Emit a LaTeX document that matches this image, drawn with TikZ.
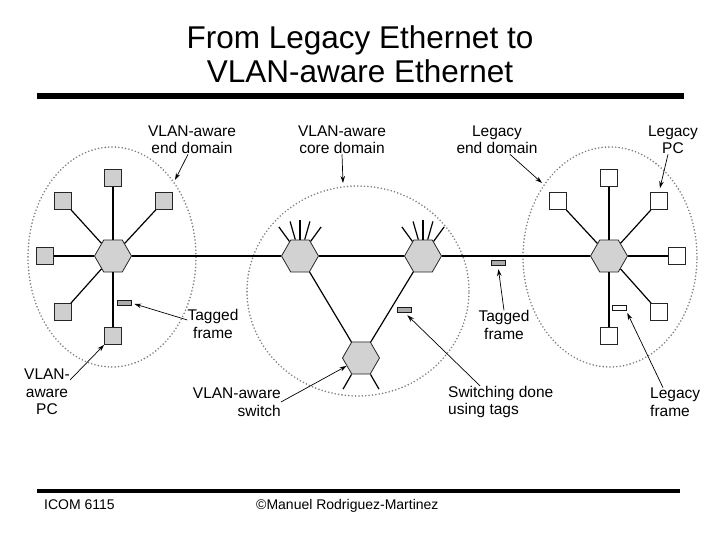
\documentclass[tikz,border=0pt]{standalone}
\usepackage{fontspec}
\setmainfont{Liberation Sans}
\usepackage{tikz}
\usetikzlibrary{shapes.geometric,arrows.meta}

\tikzset{
  hub/.style={regular polygon, regular polygon sides=6, minimum size=37pt, inner sep=0pt,
    draw=gray!30!black, fill=gray!35, line width=0.8pt},
  pc/.style={draw=gray!30!black, line width=0.8pt, minimum size=17pt, inner sep=0pt},
  vpc/.style={pc, fill=gray!38},
  lpc/.style={pc, fill=white},
  frm/.style={draw=gray!20!black, line width=0.8pt, minimum width=14pt, minimum height=5.5pt, inner sep=0pt},
  dombound/.style={gray, line width=1.8pt, dash pattern=on 0pt off 3.4pt, line cap=round},
  lbl/.style={font=\fontsize{15.5}{17.5}\selectfont, inner sep=0pt},
  callout/.style={-{Stealth[length=7pt,width=4.5pt]}, line width=0.7pt},
  link/.style={line width=1.2pt}
}

\begin{document}
\begin{tikzpicture}[x=1pt,y=1pt]
  \useasboundingbox (0,0) rectangle (720,540);

  \node[font=\fontsize{31.5}{34}\selectfont, align=center, inner sep=0pt] (ttl) at (360,486)
    {From Legacy Ethernet to\\VLAN-aware Ethernet};
  \fill (37,441) rectangle (684,447);
  \fill (37,47) rectangle (680,51);
  \node[font=\fontsize{14}{16}\selectfont, anchor=base west, inner sep=0pt] (foot1) at (44,30) {ICOM 6115};
  \node[font=\fontsize{14}{16}\selectfont, anchor=base west, inner sep=0pt] (foot2) at (256,30) {©Manuel Rodriguez-Martinez};

  % domains
  \draw[dombound] (112,283) ellipse [x radius=84pt, y radius=110pt];
  \draw[dombound] (358,249) ellipse [x radius=111pt, y radius=105pt];
  \draw[dombound] (610,283) ellipse [x radius=87pt, y radius=110pt];

  % switches
  \node[hub] (hubL) at (113,284) {};
  \node[hub] (coreA) at (300,284) {};
  \node[hub] (coreB) at (423,284) {};
  \node[hub] (coreC) at (361,182) {};
  \node[hub] (hubR) at (609,284) {};

  \draw[link] (hubL) -- (coreA);
  \draw[link] (coreA) -- (coreB);
  \draw[link] (coreB) -- (hubR);
  \draw[link] (coreA) -- (coreC);
  \draw[link] (coreB) -- (coreC);

  \foreach \a in {54,74,90,106,126} {
    \draw[link] (coreA.\a) -- ([shift={(\a:36)}]coreA.center);
    \draw[link] (coreB.\a) -- ([shift={(\a:36)}]coreB.center);
  }
  \foreach \a in {-120,-60}
    \draw[link] (coreC.\a) -- ([shift={(\a:36)}]coreC.center);

  % end stations
  \foreach \n/\x/\y in {1/113/362, 2/63/339, 3/164/339, 4/45/284, 5/63/228, 6/113/204} {
    \node[vpc] (pcL\n) at (\x,\y) {};
    \draw[link] (hubL) -- (pcL\n);
  }
  \foreach \n/\x/\y in {1/609/362, 2/558/339, 3/659/339, 4/677/284, 5/659/228, 6/609/204} {
    \node[lpc] (pcR\n) at (\x,\y) {};
    \draw[link] (hubR) -- (pcR\n);
  }

  % frames
  \node[frm, fill=gray!65] (frmL) at (124,237) {};
  \node[frm, fill=gray!65] (frmC) at (404,230) {};
  \node[frm, fill=gray!65] (frmM) at (498,277) {};
  \node[frm, fill=white] (frmR) at (619,232) {};

  % labels
  \node[lbl, align=center] (lblEndL) at (192,400) {VLAN-aware\\end domain};
  \node[lbl, align=center] (lblCore) at (342,400) {VLAN-aware\\core domain};
  \node[lbl, align=center] (lblEndR) at (497,400) {Legacy\\end domain};
  \node[lbl, align=center] (lblPCR) at (673,400) {Legacy\\PC};
  \node[lbl, align=center] (lblTagL) at (213,216) {Tagged\\frame};
  \node[lbl, align=center] (lblPCL) at (47,148) {VLAN-\\aware\\PC};
  \node[lbl, align=right, anchor=east] (lblSw) at (281,138) {VLAN-aware\\switch};
  \node[lbl, align=left, anchor=west] (lblSwt) at (448,138) {Switching done\\using tags};
  \node[lbl, align=center] (lblTagR) at (504,215) {Tagged\\frame};
  \node[lbl, align=left, anchor=west] (lblLegF) at (650,138) {Legacy\\frame};

  \coordinate (tipEndL) at (175,360);
  \coordinate (tipCore) at (343,357);
  \coordinate (tipEndR) at (542,357);

  \draw[callout] ([xshift=-4pt]lblEndL.south) -- (tipEndL);
  \draw[callout] (lblCore.south) -- (tipCore);
  \draw[callout] ([xshift=13pt]lblEndR.south) -- (tipEndR);
  \draw[callout, shorten >=4pt] ([xshift=-5pt]lblPCR.south) -- (pcR3.north);
  \draw[callout, shorten >=3pt] ([yshift=4pt]lblTagL.west) -- (frmL.east);
  \draw[callout] ([yshift=12pt]lblPCL.east) -- (pcL6.south west);
  \draw[callout] (lblSw.east) -- (coreC.209);
  \draw[callout, shorten >=3pt] ([xshift=32pt]lblSwt.north west) -- (frmC.-70);
  \draw[callout, shorten >=3pt] (lblTagR.north) -- (frmM.south);
  \draw[callout, shorten >=2pt] ([xshift=13pt]lblLegF.north west) -- (frmR.south east);
\end{tikzpicture}
\end{document}
